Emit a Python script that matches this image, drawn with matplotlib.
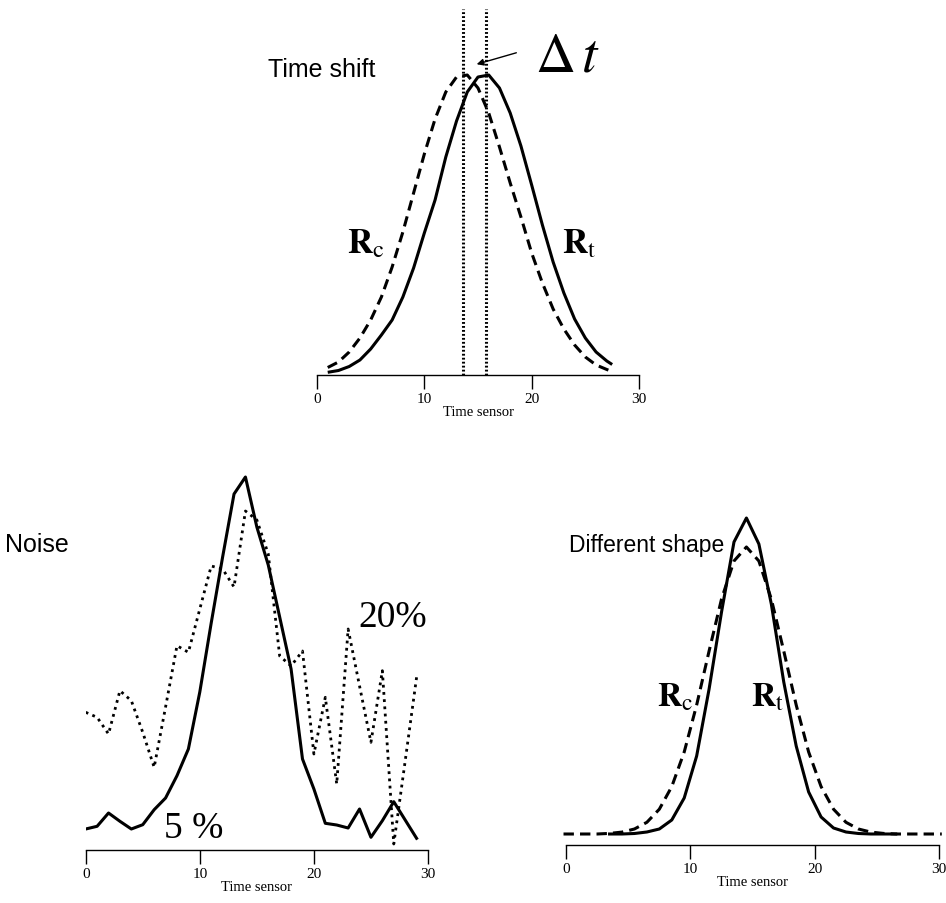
import matplotlib
matplotlib.use('Agg')
import matplotlib.pyplot as plt

# ---------------- data ----------------
ticks = [0, 10, 20, 30]

# Time shift panel
shift_x_t = [1, 2, 3, 4, 5, 6, 7, 8, 9, 10, 11, 12, 13, 14, 15, 16, 17, 18, 19, 20,
             21, 22, 23, 24, 25, 26, 27, 27.5]
shift_rt = [2.7, 4.5, 8.5, 15, 26, 40, 55, 78, 107, 142, 175, 218, 254, 283, 298, 300,
            287, 262, 229, 190, 150, 113, 82, 56, 37, 23, 14, 10.5]
shift_x_c = [1, 2, 3, 4, 5, 6, 7, 8, 9, 10, 11, 12, 13, 14, 15, 16, 17, 18, 19, 20,
             21, 22, 23, 24, 25, 26, 27, 27.3]
shift_rc = [7.5, 13, 23, 37, 55, 78, 108, 143, 182, 221, 256, 283, 298, 300,
            287, 262, 228, 192, 158, 122, 92, 66, 46, 30, 18, 10, 5.5, 4.3]
dt_lines = [13.6, 15.7]

# Noise panel
noise_x = list(range(30))
noise_5 = [21, 23.7, 37, 28.7, 21, 25.3, 40.3, 52, 74.3, 101, 158, 227, 293, 356, 373,
           323, 285, 233, 181, 91, 61, 26.7, 25, 22, 41, 12.7, 29.3, 48.3, 30, 11.7]
noise_20 = [137.7, 132.7, 116, 159.3, 149.3, 117.7, 82.7, 143, 204.3, 197.7, 241, 284,
            281, 263, 339, 330, 296, 194, 184, 199, 96, 152.7, 66, 221, 164, 107.7,
            179.3, 6, 89, 172.7]

# Different shape panel
shape_x_t = [3.5, 4.5, 5.5, 6.5, 7.5, 8.5, 9.5, 10.5, 11.5, 12.5, 13.5, 14.5, 15.5, 16.5,
             17.5, 18.5, 19.5, 20.5, 21.5, 22.5, 23.5, 24.5, 25.5, 26.5]
shape_rt = [0, 0, 0.5, 2, 5, 14, 36, 78, 145, 222, 292, 316, 290, 230, 152, 88, 42, 17,
            6, 2, 0.5, 0, 0, 0]
shape_x_c = [-0.2, 0.5, 1.5, 2.5, 3.5, 4.5, 5.5, 6.5, 7.5, 8.5, 9.5, 10.5, 11.5, 12.5,
             13.5, 14.5, 15.5, 16.5, 17.5, 18.5, 19.5, 20.5, 21.5, 22.5, 23.5, 24.5,
             25.5, 26.5, 27.5, 28.5, 29.5, 30.2]
shape_rc = [0, 0, 0, 0, 0.6, 1.9, 5, 11.7, 24.8, 47.4, 82, 129, 183, 235, 273, 287, 273,
            235, 183, 129, 82, 47.4, 24.8, 11.7, 5, 1.9, 0.6, 0, 0, 0, 0, 0]

# ---------------- layout ----------------
W, H = 946, 904
fig = plt.figure(figsize=(W / 100, H / 100), dpi=100)
plt.rcParams['mathtext.fontset'] = 'stix'

SERIF = 'Liberation Serif'
SANS = 'Liberation Sans'


def fx(px):
    return px / W


def fy(py):
    return 1 - py / H


def make_axes(x0, x30, y_axis, y_top):
    ax = fig.add_axes([fx(x0), fy(y_axis), (x30 - x0) / W, (y_axis - y_top) / H])
    for s in ['top', 'right', 'left']:
        ax.spines[s].set_visible(False)
    ax.spines['bottom'].set_linewidth(1.0)
    ax.set_xlim(0, 30)
    ax.set_xticks(ticks)
    ax.set_xticklabels([str(t) for t in ticks], fontfamily=SERIF, fontsize=11)
    ax.tick_params(axis='x', direction='out', length=10, width=1.0, pad=2.5)
    ax.set_yticks([])
    ax.set_xlabel('Time sensor', fontfamily=SERIF, fontsize=10.5, labelpad=0)
    ax.patch.set_alpha(0)
    return ax


dash = (0, (3.4, 2.0))
lw = 2.2

# --- Time shift ---
ax1 = make_axes(317, 639, 376, 10)
ax1.set_ylim(0, 366)
ax1.plot(shift_x_t, shift_rt, color='black', lw=lw, solid_capstyle='butt')
ax1.plot(shift_x_c, shift_rc, color='black', lw=lw, linestyle=dash)
for v in dt_lines:
    ax1.axvline(v, color='black', lw=2.2, linestyle=(0, (0.6, 0.7)))

# --- Noise ---
ax2 = make_axes(85.7, 428, 851, 460)
ax2.set_ylim(0, 391)
ax2.plot(noise_x, noise_5, color='black', lw=lw)
ax2.plot(noise_x, noise_20, color='black', lw=2.0, linestyle=(0, (1.0, 1.6)))

# --- Different shape ---
ax3 = make_axes(566, 939.3, 846, 500)
ax3.set_ylim(-11, 335)
ax3.plot(shape_x_t, shape_rt, color='black', lw=lw)
ax3.plot(shape_x_c, shape_rc, color='black', lw=lw, linestyle=dash, clip_on=False)

# ---------------- text ----------------
fig.text(fx(268), fy(77), 'Time shift', fontfamily=SANS, fontsize=18, va='baseline')
fig.text(fx(5), fy(552), 'Noise', fontfamily=SANS, fontsize=18, va='baseline')
fig.text(fx(569), fy(552), 'Different shape', fontfamily=SANS, fontsize=16.5, va='baseline')

fig.text(fx(535), fy(72), r'$\Delta\,t$', fontsize=40, va='baseline')
fig.add_artist(matplotlib.patches.FancyArrowPatch(
    (fx(519), fy(53)), (fx(474), fy(66)), transform=fig.transFigure,
    arrowstyle='-|>', mutation_scale=10, lw=1.0, color='black'))

rc = r'$\mathbf{R}_{\mathrm{c}}$'
rt = r'$\mathbf{R}_{\mathrm{t}}$'
fig.text(fx(347), fy(253), rc, fontsize=25, va='baseline')
fig.text(fx(562), fy(253), rt, fontsize=25, va='baseline')
fig.text(fx(657), fy(707), rc, fontsize=24, va='baseline')
fig.text(fx(751), fy(707), rt, fontsize=24, va='baseline')

fig.text(fx(358), fy(627), '20%', fontfamily=SERIF, fontsize=27, va='baseline')
fig.text(fx(164), fy(838), '5 %', fontfamily=SERIF, fontsize=27, va='baseline')

fig.savefig('out.png', dpi=100)
